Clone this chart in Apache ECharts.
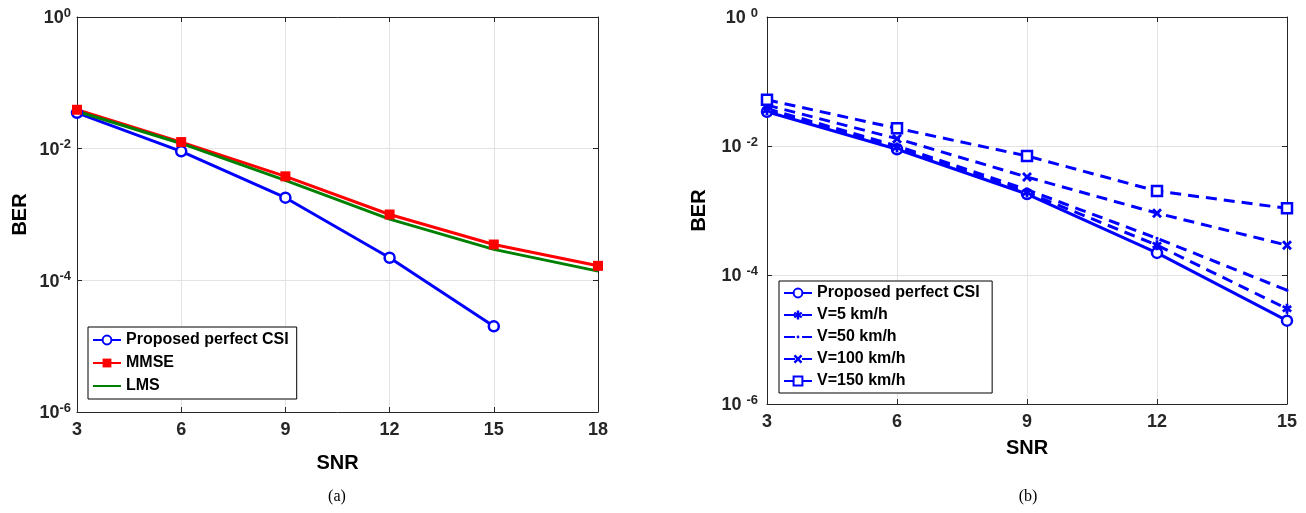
<!DOCTYPE html>
<html>
<head>
<meta charset="utf-8">
<script src="https://cdn.jsdelivr.net/npm/echarts@6/dist/echarts.min.js"></script>
<style>
  html, body { margin: 0; padding: 0; background: #fff; }
  #chart { width: 1306px; height: 513px; }
</style>
</head>
<body>
<div id="chart"></div>
<script>
// (a) BER vs SNR, equalisers
var snrA = [3, 6, 9, 12, 15, 18];
var proposedA = [3.5e-2, 9.1e-3, 1.8e-3, 2.2e-4, 2.0e-5];
var mmseA = [3.9e-2, 1.26e-2, 3.8e-3, 1.0e-3, 3.5e-4, 1.66e-4];
var lmsA = [3.7e-2, 1.2e-2, 3.3e-3, 8.5e-4, 2.95e-4, 1.38e-4];

// (b) BER vs SNR, speeds
var snrB = [3, 6, 9, 12, 15];
var proposedB = [3.4e-2, 8.9e-3, 1.8e-3, 2.2e-4, 1.96e-5];
var v5 = [3.6e-2, 9.5e-3, 1.9e-3, 2.9e-4, 3.0e-5];
var v50 = [3.8e-2, 1.0e-2, 2.1e-3, 3.7e-4, 5.8e-5];
var v100 = [4.3e-2, 1.3e-2, 3.3e-3, 9.1e-4, 2.9e-4];
var v150 = [5.2e-2, 1.88e-2, 7.0e-3, 2.0e-3, 1.08e-3];

var pairs = function (xs, ys) {
  return ys.map(function (y, i) { return [xs[i], y]; });
};

var FONT = '"Liberation Sans", Arial, sans-serif';
var AXC = '#262626';
var BLUE = '#0000ff';

// matlab-ish markers: '*' blob, 'x' bold cross, '.' small dot (padded box)
var starPath = 'path://M3.6,0H6.4V2.6L8.6,1.2L10,3.6L7.6,5L10,6.4L8.6,8.8L6.4,7.4V10H3.6V7.4L1.4,8.8L0,6.4L2.4,5L0,3.6L1.4,1.2L3.6,2.6Z';
var crossPath = 'path://M2,0L5,3L8,0L10,2L7,5L10,8L8,10L5,7L2,10L0,8L3,5L0,2Z';
var dotPath = 'path://M0,0H0.01V0.01H0Z M9.99,9.99H10V10H9.99Z M3.4,5A1.6,1.6 0 1,0 6.6,5A1.6,1.6 0 1,0 3.4,5Z';

function expLabel(space) {
  return function (v) {
    var e = Math.round(Math.log10(v));
    return '{b|10' + (space ? ' ' : '') + '}{s|' + e + '}';
  };
}
var richLbl = {
  b: { fontSize: 18, fontWeight: 'bold', color: AXC, fontFamily: FONT, verticalAlign: 'bottom', lineHeight: 21 },
  s: { fontSize: 13, fontWeight: 'bold', color: AXC, fontFamily: FONT, verticalAlign: 'top', lineHeight: 21 }
};

function xMain(idx, max, gap) {
  return {
    type: 'value', gridIndex: idx, min: 3, max: max, interval: 3,
    name: 'SNR', nameLocation: 'middle', nameGap: gap,
    nameTextStyle: { fontSize: 20, fontWeight: 'bold', color: '#000', fontFamily: FONT },
    axisLine: { onZero: false, lineStyle: { color: AXC, width: 1 } },
    axisTick: { inside: true, length: 5, lineStyle: { color: AXC } },
    axisLabel: { fontSize: 18, fontWeight: 'bold', color: AXC, fontFamily: FONT, margin: 9 },
    splitLine: { show: true, lineStyle: { color: '#e3e3e3', width: 1 } }
  };
}
function xTop(idx, max) {
  return {
    type: 'value', gridIndex: idx, min: 3, max: max, interval: 3, position: 'top',
    axisLine: { onZero: false, lineStyle: { color: AXC, width: 1 } },
    axisTick: { inside: true, length: 5, lineStyle: { color: AXC } },
    axisLabel: { show: false }, splitLine: { show: false }
  };
}
function yMain(idx, gap, space, margin) {
  return {
    type: 'log', logBase: 100, gridIndex: idx, min: 1e-6, max: 1,
    name: 'BER', nameLocation: 'middle', nameGap: gap, nameRotate: 90,
    nameTextStyle: { fontSize: 20, fontWeight: 'bold', color: '#000', fontFamily: FONT },
    axisLine: { lineStyle: { color: AXC, width: 1 } },
    axisTick: { inside: true, length: 5, lineStyle: { color: AXC } },
    axisLabel: { formatter: expLabel(space), rich: richLbl, margin: margin },
    splitLine: { show: true, lineStyle: { color: '#e3e3e3', width: 1 } },
    minorTick: { show: false }
  };
}
function yRight(idx) {
  return {
    type: 'log', logBase: 100, gridIndex: idx, min: 1e-6, max: 1, position: 'right',
    axisLine: { lineStyle: { color: AXC, width: 1 } },
    axisTick: { inside: true, length: 5, lineStyle: { color: AXC } },
    axisLabel: { show: false }, splitLine: { show: false }
  };
}

function line(name, xi, yi, data, color, symbol, size, dashed, hollow) {
  return {
    name: name, type: 'line', xAxisIndex: xi, yAxisIndex: yi, data: data,
    symbol: symbol, symbolSize: size, showSymbol: symbol !== 'none',
    color: color,
    lineStyle: { color: color, width: 3, type: dashed ? [11, 7] : 'solid' },
    itemStyle: { color: hollow ? '#fff' : color, borderColor: color, borderWidth: hollow ? 2.5 : 0 },
    emphasis: { disabled: true }, animation: false, z: 3
  };
}

var legendText = { fontSize: 16, fontWeight: 'bold', color: '#000', fontFamily: FONT, lineHeight: 18 };

var chart = echarts.init(document.getElementById('chart'));
chart.setOption({
  backgroundColor: '#fff',
  animation: false,
  grid: [
    { left: 77, top: 17, width: 521, height: 395 },
    { left: 767, top: 17, width: 520, height: 387 }
  ],
  title: [
    { text: '(a)', left: 332, top: 484, textAlign: 'center',
      textStyle: { fontSize: 16, fontWeight: 'normal', fontFamily: '"Liberation Serif", "Times New Roman", serif', color: '#000' } },
    { text: '(b)', left: 1023, top: 484, textAlign: 'center',
      textStyle: { fontSize: 16, fontWeight: 'normal', fontFamily: '"Liberation Serif", "Times New Roman", serif', color: '#000' } }
  ],
  xAxis: [xMain(0, 18, 41), xMain(1, 15, 34), xTop(0, 18), xTop(1, 15)],
  yAxis: [yMain(0, 47, false, 6), yMain(1, 58, true, 9), yRight(0), yRight(1)],
  legend: [
    {
      data: ['Proposed perfect CSI', 'MMSE',
        { name: 'LMS', itemStyle: { color: 'rgba(0,0,0,0)', borderWidth: 0 } }],
      left: 88, top: 327, orient: 'vertical', itemGap: 5, itemWidth: 28, itemHeight: 11,
      padding: [4, 8, 4, 4], borderColor: '#000', borderWidth: 1, backgroundColor: '#fff', borderRadius: 0,
      textStyle: legendText, selectedMode: false
    },
    {
      data: ['Proposed perfect CSI ', 'V=5 km/h', 'V=50 km/h', 'V=100 km/h', 'V=150 km/h'],
      left: 779, top: 281, orient: 'vertical', itemGap: 4, itemWidth: 28, itemHeight: 11,
      padding: [3, 8, 3, 4], borderColor: '#000', borderWidth: 1, backgroundColor: '#fff', borderRadius: 0,
      textStyle: legendText, selectedMode: false
    }
  ],
  series: [
    line('Proposed perfect CSI', 0, 0, pairs(snrA, proposedA), BLUE, 'circle', 10, false, true),
    line('MMSE', 0, 0, pairs(snrA, mmseA), '#ff0000', 'rect', 10, false, false),
    line('LMS', 0, 0, pairs(snrA, lmsA), '#008000', 'none', 0, false, false),
    line('Proposed perfect CSI ', 1, 1, pairs(snrB, proposedB), BLUE, 'circle', 10, false, true),
    line('V=5 km/h', 1, 1, pairs(snrB, v5), BLUE, starPath, 10, true, false),
    line('V=50 km/h', 1, 1, pairs(snrB, v50), BLUE, dotPath, 10, true, false),
    line('V=100 km/h', 1, 1, pairs(snrB, v100), BLUE, crossPath, 10, true, false),
    line('V=150 km/h', 1, 1, pairs(snrB, v150), BLUE, 'rect', 10, true, true)
  ]
});
</script>
</body>
</html>
